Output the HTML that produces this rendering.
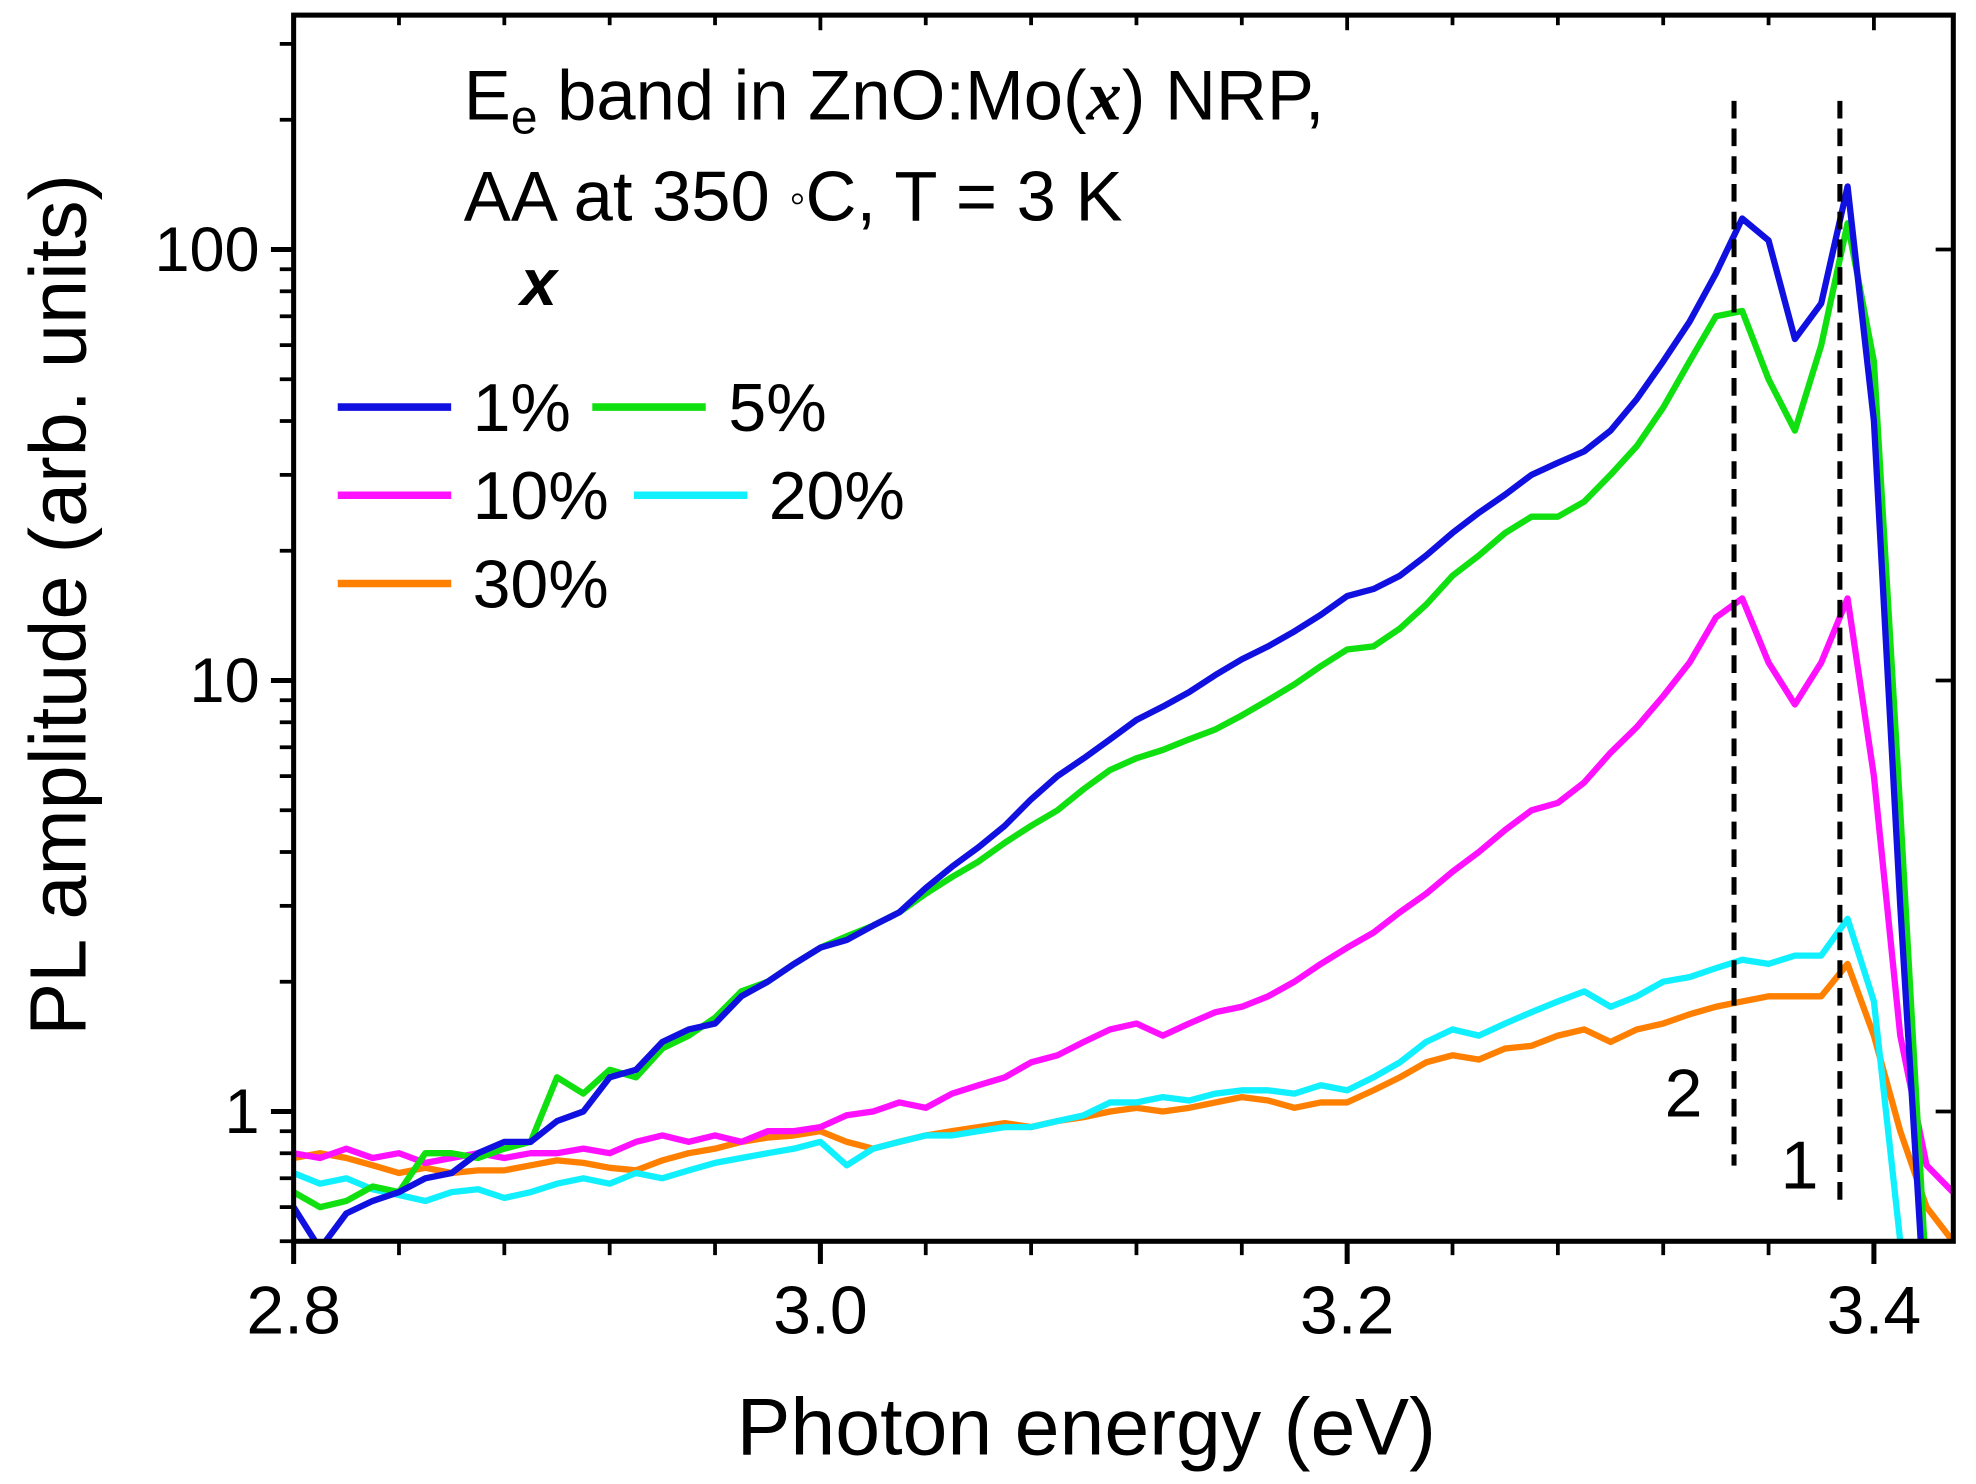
<!DOCTYPE html>
<html><head><meta charset="utf-8"><style>
html,body{margin:0;padding:0;background:#fff}
svg{display:block}
text{font-family:"Liberation Sans",Arial,sans-serif;fill:#000}
</style></head><body>
<svg id="chart" width="1976" height="1484" viewBox="0 0 1568 1177.6" xmlns="http://www.w3.org/2000/svg">
<defs><clipPath id="plotclip"><rect x="233" y="12" width="1317" height="973"/></clipPath></defs>
<rect x="0" y="0" width="1568" height="1178" fill="#fff"/>
<g id="series" clip-path="url(#plotclip)"></g>
<rect x="233" y="12" width="1317" height="973" fill="none" stroke="#000" stroke-width="4"/>
<g id="axes"></g>
<text x="862" y="1154" font-size="64" text-anchor="middle">Photon energy (eV)</text>
<text transform="translate(68,480) rotate(-90)" font-size="63" text-anchor="middle">PL amplitude (arb. units)</text>
<text x="368" y="95" font-size="56">E<tspan font-size="38" dy="11">e</tspan><tspan dy="-11"> band in ZnO:Mo(</tspan><tspan font-family="Liberation Serif,serif" font-style="italic" font-weight="bold">x</tspan>) NRP,</text>
<text x="368" y="175" font-size="56">AA at 350 <tspan font-size="36" dy="-6">◦</tspan><tspan dy="6">C, T = 3 K</tspan></text>
<text x="413" y="242" font-size="52" font-family="Liberation Serif,serif" font-style="italic" font-weight="bold">x</text>
<g id="legend"></g>
<line x1="1376" y1="80" x2="1376" y2="925" stroke="#000" stroke-width="4" stroke-dasharray="14,8"/>
<line x1="1460" y1="80" x2="1460" y2="960" stroke="#000" stroke-width="4" stroke-dasharray="14,8"/>
<text x="1336" y="886" font-size="54" text-anchor="middle">2</text>
<text x="1428" y="943" font-size="54" text-anchor="middle">1</text>
</svg>
<script>
const energies = Array.from({length:64},(_,i)=>+(2.80+i*0.01).toFixed(2));
const s1 = [0.6,0.48,0.58,0.62,0.65,0.7,0.72,0.8,0.85,0.85,0.95,1.0,1.2,1.25,1.45,1.55,1.6,1.85,2.0,2.2,2.4,2.5,2.7,2.9,3.3,3.7,4.1,4.6,5.3,6.0,6.6,7.3,8.1,8.7,9.4,10.3,11.2,12,13,14.2,15.7,16.3,17.5,19.5,22,24.5,27,30,32,34,38,45,55,68,88,118,105,62,75,140,40,3,0.3,0.3];
const s5 = [0.65,0.6,0.62,0.67,0.65,0.8,0.8,0.78,0.82,0.85,1.2,1.1,1.25,1.2,1.4,1.5,1.65,1.9,2.0,2.2,2.4,2.55,2.7,2.9,3.2,3.5,3.8,4.2,4.6,5.0,5.6,6.2,6.6,6.9,7.3,7.7,8.3,9.0,9.8,10.8,11.8,12,13.2,15,17.5,19.5,22,24,24,26,30,35,43,55,70,72,50,38,60,115,55,5,0.4,0.3];
const s10 = [0.8,0.78,0.82,0.78,0.80,0.76,0.78,0.80,0.78,0.80,0.8,0.82,0.8,0.85,0.88,0.85,0.88,0.85,0.9,0.9,0.92,0.98,1.0,1.05,1.02,1.1,1.15,1.2,1.3,1.35,1.45,1.55,1.6,1.5,1.6,1.7,1.75,1.85,2.0,2.2,2.4,2.6,2.9,3.2,3.6,4.0,4.5,5.0,5.2,5.8,6.8,7.8,9.2,11,14,15.5,11,8.8,11,15.5,6,1.5,0.75,0.65];
const s20 = [0.72,0.68,0.70,0.66,0.64,0.62,0.65,0.66,0.63,0.65,0.68,0.70,0.68,0.72,0.70,0.73,0.76,0.78,0.80,0.82,0.85,0.75,0.82,0.85,0.88,0.88,0.90,0.92,0.92,0.95,0.98,1.05,1.05,1.08,1.06,1.10,1.12,1.12,1.10,1.15,1.12,1.2,1.3,1.45,1.55,1.5,1.6,1.7,1.8,1.9,1.75,1.85,2.0,2.05,2.15,2.25,2.2,2.3,2.3,2.8,1.8,0.5,0.3,0.3];
const s30 = [0.78,0.8,0.78,0.75,0.72,0.74,0.72,0.73,0.73,0.75,0.77,0.76,0.74,0.73,0.77,0.80,0.82,0.85,0.87,0.88,0.9,0.85,0.82,0.85,0.88,0.9,0.92,0.94,0.92,0.95,0.97,1.0,1.02,1.0,1.02,1.05,1.08,1.06,1.02,1.05,1.05,1.12,1.2,1.3,1.35,1.32,1.4,1.42,1.5,1.55,1.45,1.55,1.6,1.68,1.75,1.8,1.85,1.85,1.85,2.2,1.5,0.9,0.6,0.5];
const seriesNames = ["1%","5%","10%","20%","30%"];
const xTicks = [2.8,3.0,3.2,3.4];
const xTickLabels = ["2.8","3.0","3.2","3.4"];
const yTicks = [1,10,100];
const yTickLabels = ["1","10","100"];

const NS="http://www.w3.org/2000/svg";
function X(e){return 233+(e-2.8)/0.6*1254;}
function Y(v){return 882-342*Math.log10(v);}
function mk(tag,attrs,parent){const el=document.createElementNS(NS,tag);for(const k in attrs)el.setAttribute(k,attrs[k]);parent.appendChild(el);return el;}
const colors=["#1010e0","#10e010","#ff10ff","#10f0ff","#ff8000"];
const data=[s1,s5,s10,s20,s30];
const sg=document.getElementById('series');
[4,3,2,1,0].forEach(i=>{
  const d=data[i].map((v,j)=>(j?'L':'M')+X(energies[j]).toFixed(1)+','+Y(v).toFixed(1)).join(' ');
  const p=mk('path',{d:d,fill:'none',stroke:colors[i],'stroke-width':5,'stroke-linejoin':'round'},sg);
  
  
});
const ax=document.getElementById('axes');
for(let k=0;k<=15;k++){
  const e=2.8+k*0.04;const x=X(e);const major=(k%5===0);
  const t=mk('line',{x1:x,y1:985,x2:x,y2:major?1003:996,stroke:'#000','stroke-width':major?4:3},ax);
  
  
  const tt=mk('line',{x1:x,y1:12,x2:x,y2:major?24:20,stroke:'#000','stroke-width':3},ax);
  
  
}
xTicks.forEach((e,i)=>{
  const t=mk('text',{x:X(e),y:1058,'font-size':54,'text-anchor':'middle'},ax);
  t.textContent=xTickLabels[i];
  
  
});
for(let dec=-1;dec<=2;dec++){
  for(let m=1;m<=9;m++){
    const v=m*Math.pow(10,dec);if(v<0.5||v>350)continue;
    const y=Y(v);const major=(m===1);
    const t=mk('line',{x1:major?215:222,y1:y,x2:233,y2:y,stroke:'#000','stroke-width':major?4:3},ax);
    
    
    if(major){
      const r=mk('line',{x1:1536,y1:y,x2:1550,y2:y,stroke:'#000','stroke-width':3},ax);
      
      
    }
  }
}
yTicks.forEach((v,i)=>{
  const t=mk('text',{x:206,y:Y(v)+17,'font-size':50,'text-anchor':'end','font-family':'DejaVu Sans, sans-serif'},ax);
  t.textContent=yTickLabels[i];
  
  
});
const lg=document.getElementById('legend');
const legPos=[[268,323,375],[470,323,578],[268,393,375],[503,393,610],[268,463,375]];
legPos.forEach((p,i)=>{
  const g=mk('g',{},lg);
  
  
  mk('line',{x1:p[0],y1:p[1],x2:p[0]+90,y2:p[1],stroke:colors[i],'stroke-width':6},g);
  const t=mk('text',{x:p[2],y:p[1]+19,'font-size':54},g);
  t.textContent=seriesNames[i];
});
</script>
</body></html>
